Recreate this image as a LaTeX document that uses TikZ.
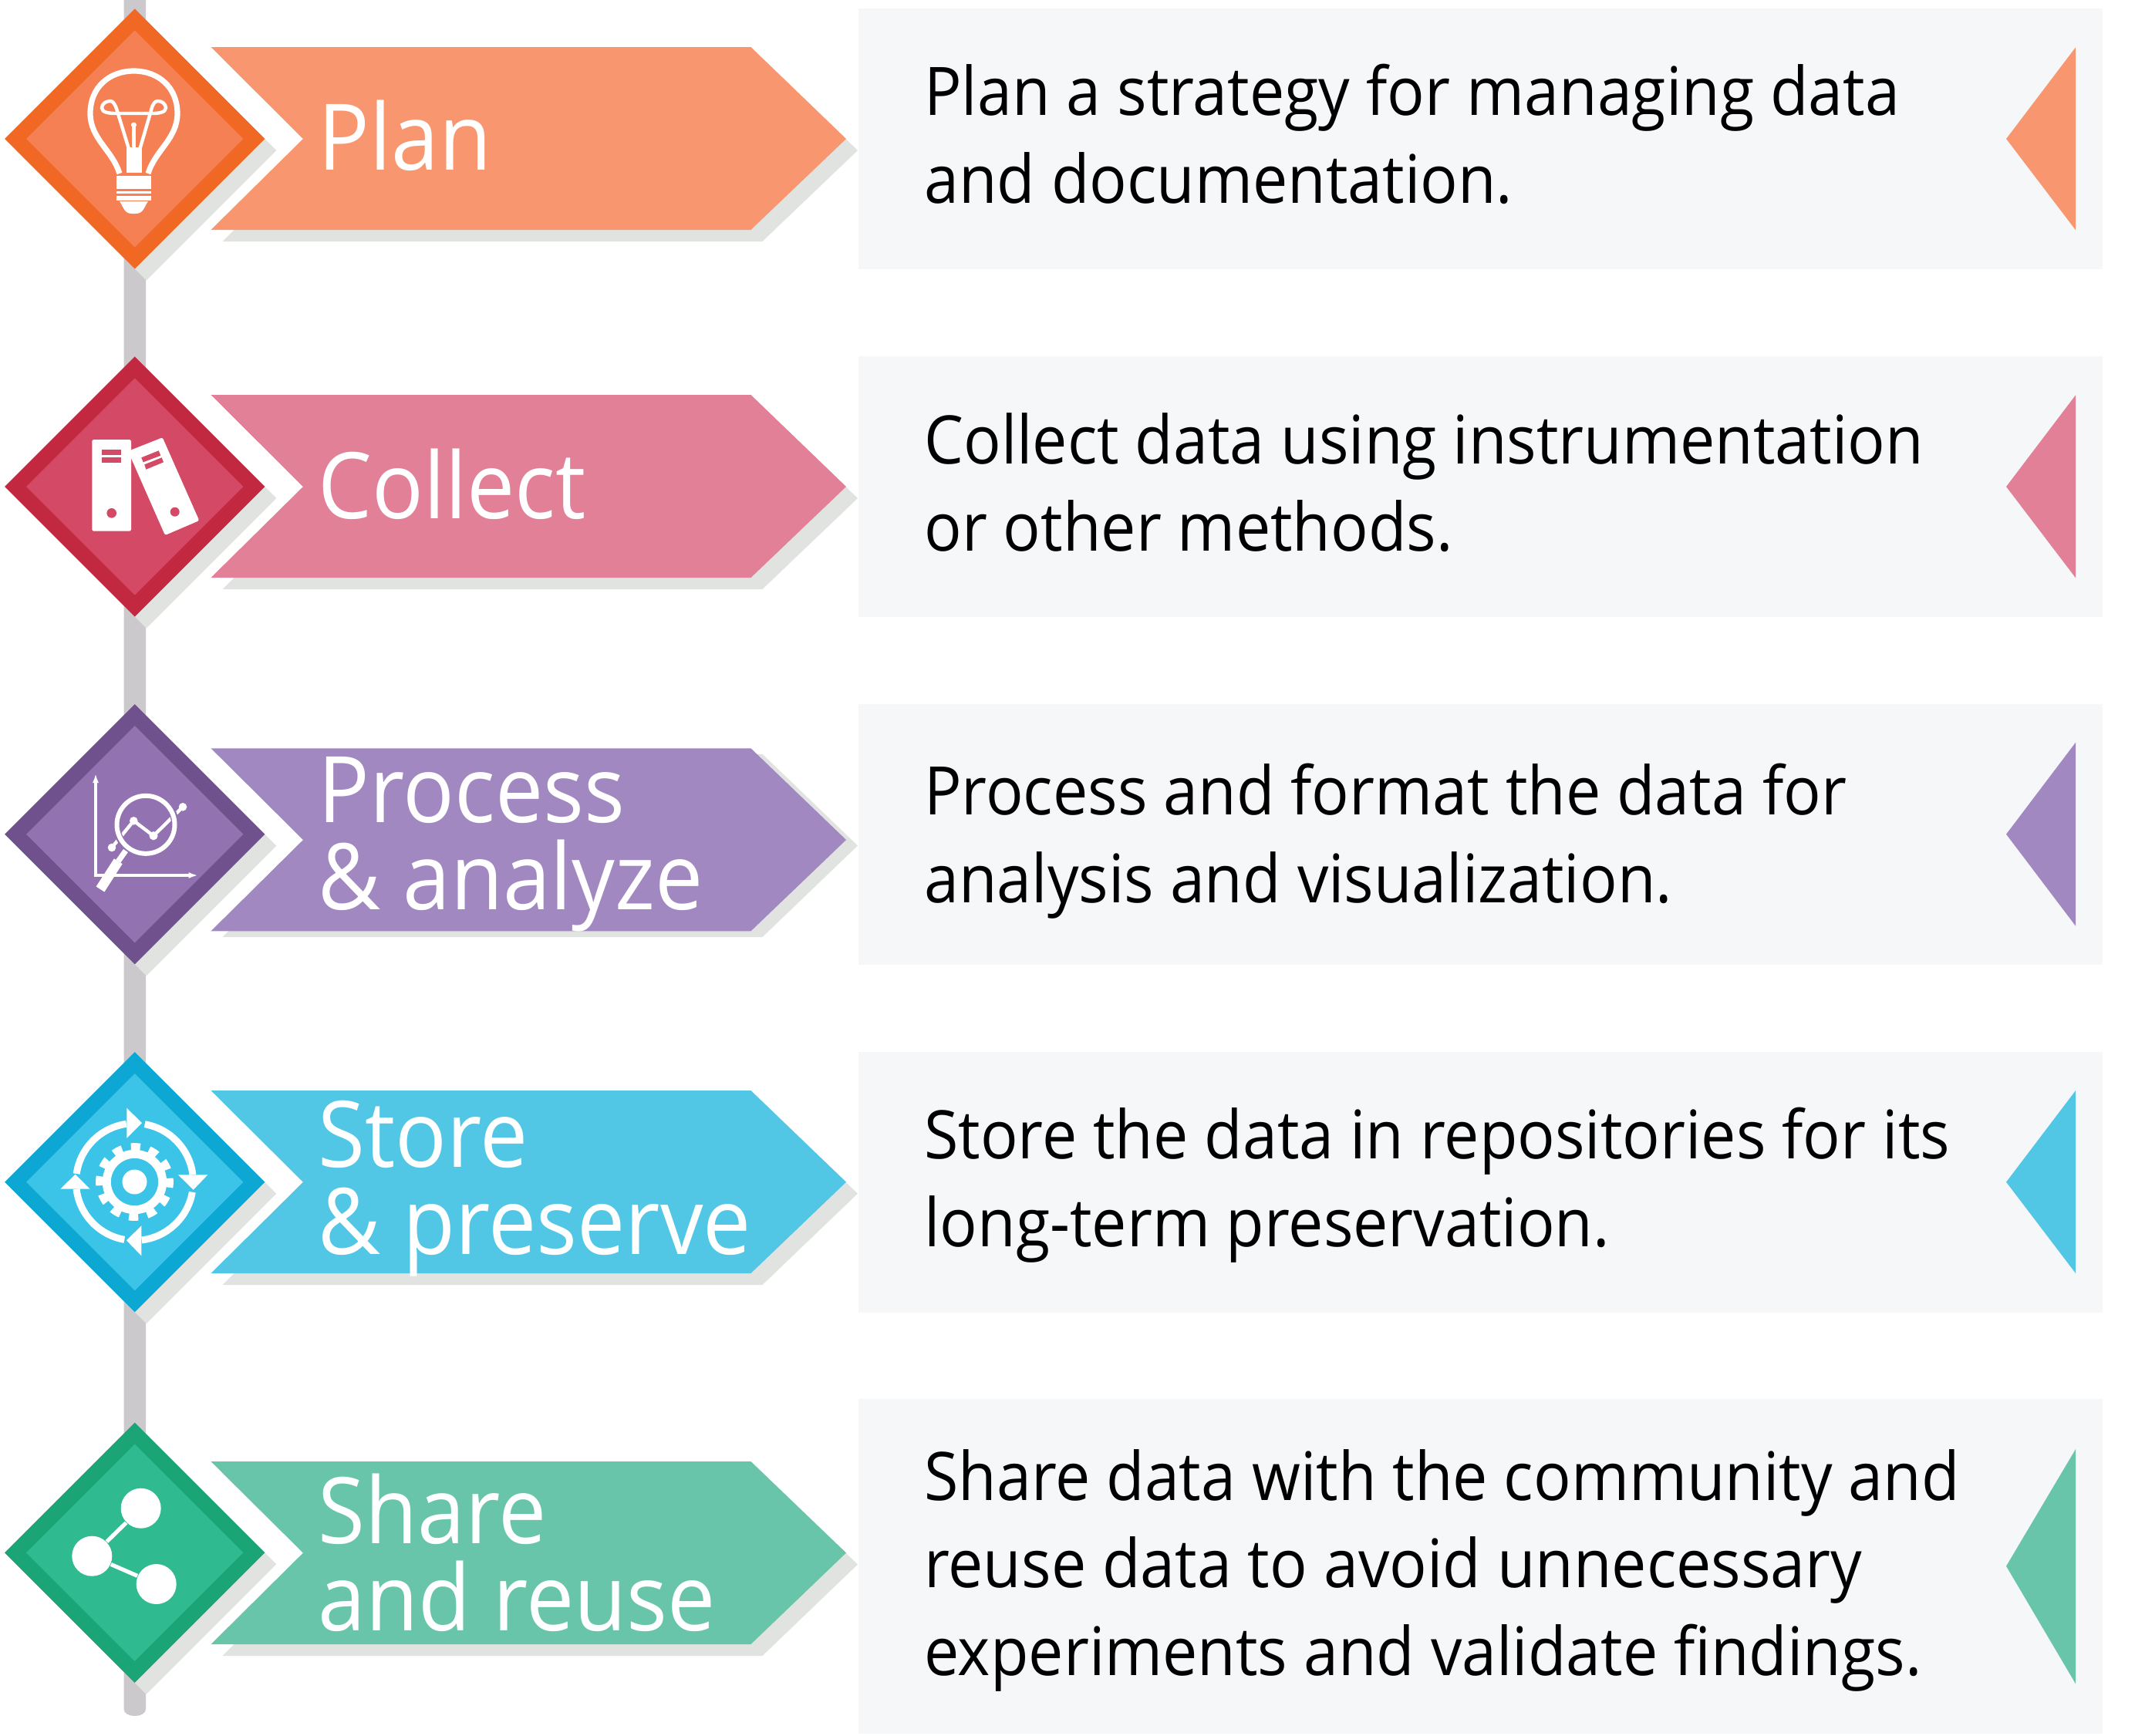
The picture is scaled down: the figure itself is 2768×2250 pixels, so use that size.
\documentclass[tikz,border=0pt]{standalone}
\usepackage{fontspec}
\setmainfont[FakeStretch=0.93]{Open Sans}
\usetikzlibrary{shapes.geometric, arrows.meta, positioning}
\definecolor{orangedark}{HTML}{F16824}
\definecolor{orangemid}{HTML}{F58053}
\definecolor{orangelight}{HTML}{F8976F}
\definecolor{pinkdark}{HTML}{C2283F}
\definecolor{pinkmid}{HTML}{D44A66}
\definecolor{pinklight}{HTML}{E18097}
\definecolor{purpledark}{HTML}{6F528D}
\definecolor{purplemid}{HTML}{9272B0}
\definecolor{purplelight}{HTML}{A288C0}
\definecolor{bluedark}{HTML}{0DA7D3}
\definecolor{bluemid}{HTML}{3CC3E8}
\definecolor{bluelight}{HTML}{52C6E5}
\definecolor{greendark}{HTML}{1BA577}
\definecolor{greenmid}{HTML}{2FBA90}
\definecolor{greenlight}{HTML}{69C5A9}
\definecolor{shadowgrey}{HTML}{E1E3E0}
\definecolor{postgrey}{HTML}{CBC9CB}
\definecolor{panelgrey}{HTML}{F6F7F9}
\tikzset{
  outerdiamond/.style={diamond, aspect=1, inner sep=0pt, minimum width=84.5pt, minimum height=84.5pt},
  innerdiamond/.style={diamond, aspect=1, inner sep=0pt, minimum width=70.5pt, minimum height=70.5pt},
  infopanel/.style={rectangle, inner sep=0pt, fill=panelgrey, minimum width=403.25pt},
  stagelabel/.style={anchor=base west, inner sep=0pt, align=left, text=white, font=\fontsize{29.8}{28.2}\selectfont},
  infotext/.style={anchor=base west, inner sep=0pt, align=left, text=black, font=\fontsize{21.7}{28.3}\selectfont},
  iconline/.style={draw=white, line width=1.8pt},
  iconthin/.style={draw=white, line width=1.1pt},
  sharedot/.style={circle, fill=white, inner sep=0pt, minimum size=13pt}
}
\begin{document}
\begin{tikzpicture}[x=0.25pt, y=-0.25pt]
\useasboundingbox (0,0) rectangle (2768,2250);

% post
\fill[postgrey] (160.5,0) -- (160.5,2216) .. controls (160.5,2222) and (168,2225) .. (174.75,2225) .. controls (181.5,2225) and (189,2222) .. (189,2216) -- (189,0) -- cycle;

% panels
\node[infopanel, minimum height=84.5pt] (planpanel) at (1919.5,180) {};
\node[infopanel, minimum height=84.5pt] (collectpanel) at (1919.5,631) {};
\node[infopanel, minimum height=84.5pt] (processpanel) at (1919.5,1081.7) {};
\node[infopanel, minimum height=84.5pt] (storepanel) at (1919.5,1532.7) {};
\node[infopanel, minimum height=108.4pt] (sharepanel) at (1919.5,2030.8) {};

% shadows
\node[outerdiamond, fill=shadowgrey] (planshadow) at (189.7,195) {};
\node[outerdiamond, fill=shadowgrey] (collectshadow) at (189.7,646) {};
\node[outerdiamond, fill=shadowgrey] (processshadow) at (189.7,1096.7) {};
\node[outerdiamond, fill=shadowgrey] (storeshadow) at (189.7,1547.7) {};
\node[outerdiamond, fill=shadowgrey] (shareshadow) at (189.7,2028.3) {};
\fill[shadowgrey] (288.5,76) -- (988.5,76) -- (1112,195) -- (988.5,313) -- (288.5,313) -- (408,195) -- cycle;
\fill[shadowgrey] (288.5,527) -- (988.5,527) -- (1112,646) -- (988.5,764) -- (288.5,764) -- (408,646) -- cycle;
\fill[shadowgrey] (288.5,977.8) -- (988.5,977.8) -- (1112,1096.5) -- (988.5,1215) -- (288.5,1215) -- (408,1096.5) -- cycle;
\fill[shadowgrey] (288.5,1429) -- (988.5,1429) -- (1112,1547.7) -- (988.5,1666) -- (288.5,1666) -- (408,1547.7) -- cycle;
\fill[shadowgrey] (288.5,1910) -- (988.5,1910) -- (1112,2028.5) -- (988.5,2147) -- (288.5,2147) -- (408,2028.5) -- cycle;

% arrows
\fill[orangelight] (273.5,61) -- (973.5,61) -- (1097,180) -- (973.5,298) -- (273.5,298) -- (393,180) -- cycle;
\fill[pinklight] (273.5,512) -- (973.5,512) -- (1097,631) -- (973.5,749) -- (273.5,749) -- (393,631) -- cycle;
\fill[purplelight] (273.5,970.3) -- (973.5,970.3) -- (1097,1089) -- (973.5,1207.3) -- (273.5,1207.3) -- (393,1089) -- cycle;
\fill[bluelight] (273.5,1414) -- (973.5,1414) -- (1097,1532.7) -- (973.5,1651) -- (273.5,1651) -- (393,1532.7) -- cycle;
\fill[greenlight] (273.5,1895) -- (973.5,1895) -- (1097,2013.5) -- (973.5,2132) -- (273.5,2132) -- (393,2013.5) -- cycle;

% diamonds
\node[outerdiamond, fill=orangedark] (plandiamond) at (174.7,180) {};
\node[innerdiamond, fill=orangemid] (planinner) at (174.7,180) {};
\node[outerdiamond, fill=pinkdark] (collectdiamond) at (174.7,631) {};
\node[innerdiamond, fill=pinkmid] (collectinner) at (174.7,631) {};
\node[outerdiamond, fill=purpledark] (processdiamond) at (174.7,1081.7) {};
\node[innerdiamond, fill=purplemid] (processinner) at (174.7,1081.7) {};
\node[outerdiamond, fill=bluedark] (storediamond) at (174.7,1532.7) {};
\node[innerdiamond, fill=bluemid] (storeinner) at (174.7,1532.7) {};
\node[outerdiamond, fill=greendark] (sharediamond) at (174.7,2013.3) {};
\node[innerdiamond, fill=greenmid] (shareinner) at (174.7,2013.3) {};

% labels
\node[stagelabel] (planlabel) at (412,220.5) {Plan};
\node[stagelabel] (collectlabel) at (412,672) {Collect};
\node[stagelabel] (processlabel) at (412,1179.5) {Process\\\& analyze};
\node[stagelabel] (storelabel) at (412,1626) {Store\\\& preserve};
\node[stagelabel] (sharelabel) at (412,2114.5) {Share\\and reuse};

% texts
\node[infotext] (plantext) at (1197.5,263) {Plan a strategy for managing data\\and documentation.};
\node[infotext] (collecttext) at (1197.5,714.5) {Collect data using instrumentation\\or other methods.};
\node[infotext] (processtext) at (1197.5,1170) {Process and format the data for\\analysis and visualization.};
\node[infotext] (storetext) at (1197.5,1616) {Store the data in repositories for its\\long-term preservation.};
\node[infotext] (sharetext) at (1197.5,2172) {Share data with the community and\\reuse data to avoid unnecessary\\experiments and validate findings.};

% triangles
\fill[orangelight] (2691,61.3) -- (2601,180) -- (2691,298.3) -- cycle;
\fill[pinklight] (2691,512.3) -- (2601,631) -- (2691,749.3) -- cycle;
\fill[purplelight] (2691,962.7) -- (2601,1081.7) -- (2691,1200.7) -- cycle;
\fill[bluelight] (2691,1414) -- (2601,1532.7) -- (2691,1651) -- cycle;
\fill[greenlight] (2691,1879) -- (2601,2030.7) -- (2691,2183.3) -- cycle;

% bulb
\draw[iconline] (155,225) .. controls (146,195) and (117,180) .. (117,147) .. controls (117,113) and (142,92) .. (173.5,92) .. controls (205,92) and (230,113) .. (230,147) .. controls (230,180) and (201,195) .. (192,225);
\draw[iconthin] (166.7,192) -- (151.7,143) .. controls (149,134) and (146,131) .. (143,131) .. controls (137,131) and (132,135) .. (132,140) .. controls (132,146) and (142,147) .. (150,147) -- (197,147) .. controls (205,147) and (215,146) .. (215,140) .. controls (215,135) and (210,131) .. (205,131) .. controls (201,131) and (198,134) .. (196,143) -- (181.7,192);
\draw[iconthin] (173.5,192) -- (173.5,163);
\fill[white] (173.5,162) circle [radius=3.5];
\fill[white] (163.5,191) -- (184,191) -- (184,224) -- (163.5,224) -- cycle;
\fill[white] (151,228) -- (196,228) -- (196,245) -- (151,245) -- cycle;
\fill[white] (151,248) -- (196,248) -- (196,251) -- (151,251) -- cycle;
\fill[white] (151,254) -- (196,254) -- (196,260) -- (151,260) -- cycle;
\fill[white] (155,261) -- (192,261) .. controls (187,268) and (186,277) .. (176,277) -- (171,277) .. controls (161,277) and (160,268) .. (155,261) -- cycle;

% binders
\fill[white, rounded corners=0.6pt] (119.3,570) -- (170,570) -- (170,688.7) -- (119.3,688.7) -- cycle;
\fill[pinkmid] (132.3,583) -- (157,583) -- (157,590.3) -- (132.3,590.3) -- cycle;
\fill[pinkmid] (132.3,592.7) -- (157,592.7) -- (157,600) -- (132.3,600) -- cycle;
\fill[pinkmid] (144.7,665.3) circle [radius=6.3];
\fill[white, rounded corners=0.6pt] (166,585) -- (210.7,567.3) -- (258.3,675) -- (214,694) -- cycle;
\fill[pinkmid] (183.3,593.3) -- (205.7,584.3) -- (208.3,590.7) -- (185.7,599.3) -- cycle;
\fill[pinkmid] (187.3,602.3) -- (209.7,593.3) -- (212,599.3) -- (189.3,608.7) -- cycle;
\fill[pinkmid] (226.7,663.7) circle [radius=6];

% chart
\draw[draw=white, line width=0.9pt, {Latex[length=3pt, width=2pt]}-{Latex[length=3pt, width=2pt]}] (124,1003) -- (124,1135) -- (256.7,1135);
\draw[draw=white, line width=1.1pt] (145,1099) -- (173.3,1064.3) -- (199,1083.7) -- (237,1046.3);
\fill[white] (145,1099) circle [radius=5.3];
\fill[white] (173.3,1064.3) circle [radius=5.3];
\fill[white] (199,1083.7) circle [radius=5.6];
\fill[white] (237,1046.3) circle [radius=5.3];
\draw[draw=purplemid, line width=2.4pt] (189,1069.3) circle [radius=38];
\draw[draw=white, line width=1.5pt] (189,1069.3) circle [radius=37.5];
\draw[draw=white, line width=1.8pt] (163,1103) -- (153.3,1116.7);
\draw[draw=white, line width=3.2pt] (153.3,1116.7) -- (130,1153);

% gear
\begin{scope}[shift={(174.5,1532.5)}]
\draw[draw=white, line width=2.75pt] (0,0) circle [radius=36.2];
\draw[draw=white, line width=2.6pt, dash pattern=on 3pt off 2.916pt, rotate=6] (0,0) circle [radius=45.2];
\fill[white] (0,0) circle [radius=16];
\draw[draw=white, line width=2.25pt] (280:76) arc [start angle=280, end angle=353, radius=76];
\draw[draw=white, line width=2.25pt] (10:76) arc [start angle=10, end angle=83, radius=76];
\draw[draw=white, line width=2.25pt] (100:76) arc [start angle=100, end angle=173, radius=76];
\draw[draw=white, line width=2.25pt] (188:76) arc [start angle=188, end angle=262, radius=76];
\end{scope}
\fill[white] (164.3,1436.7) -- (184,1456) -- (164.3,1475.7) -- cycle;
\fill[white] (231,1523.3) -- (269.3,1523.3) -- (250.7,1542.7) -- cycle;
\fill[white] (183.3,1589.3) -- (183.3,1628.3) -- (164,1608.3) -- cycle;
\fill[white] (78.3,1541.7) -- (116.7,1541.7) -- (97.7,1522.7) -- cycle;

% share
\node[sharedot] (shareup) at (182.7,1955.7) {};
\node[sharedot] (sharemid) at (119.3,2017.7) {};
\node[sharedot] (sharelow) at (202.7,2054) {};
\draw[draw=white, line width=1.3pt] (sharemid) -- (shareup);
\draw[draw=white, line width=1.3pt] (sharemid) -- (sharelow);
\end{tikzpicture}
\end{document}
